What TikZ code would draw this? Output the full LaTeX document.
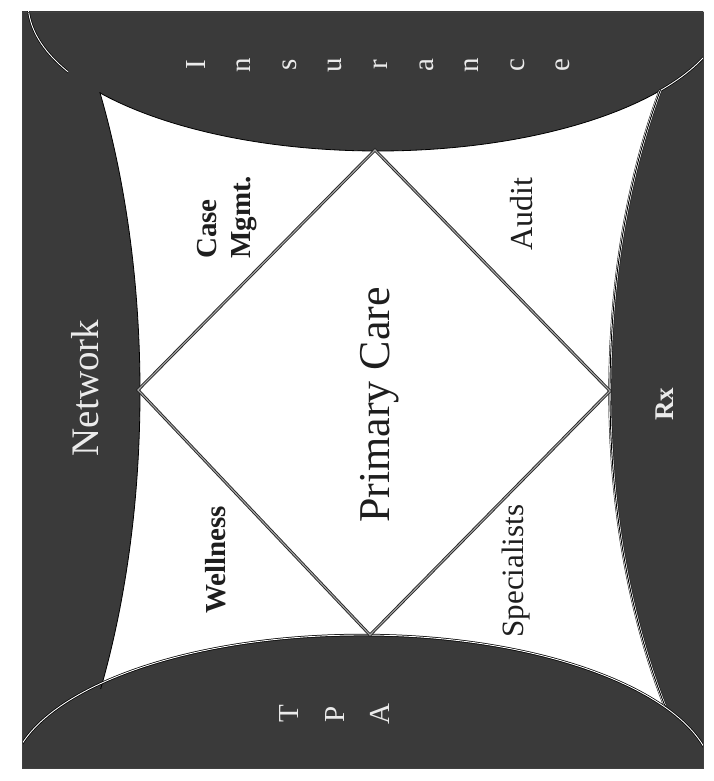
\documentclass[tikz,border=0pt]{standalone}
\usepackage{fontspec}
\setmainfont{Liberation Serif}
\definecolor{band}{RGB}{58,58,58}
\definecolor{ink}{RGB}{30,30,30}
\begin{document}
\begin{tikzpicture}[x=1pt,y=-1pt,
  bandtxt/.style={text=white!92!black, rotate=90, inner sep=0pt, anchor=base},
  lbl/.style={text=ink, rotate=90, inner sep=0pt, anchor=base},
  stackletter/.style={bandtxt, font=\fontsize{29}{29}\selectfont},
  edgeline/.style={black, line width=2.4pt},
  edgewhite/.style={white, line width=0.9pt},
  diamondline/.style={draw=black!85, line width=0.9pt, double=black!35, double distance=1.1pt, line join=miter}]
\useasboundingbox (0,0) rectangle (713,781);
\fill[white] (0,0) rectangle (713,781);
\fill[band] (22,12) rectangle (703,768);
\begin{scope}
  \clip (22,12) rectangle (703,768);
  \fill[white] (22,12) rectangle (703,768);
  \fill[band] (-150,392) ellipse [x radius=290, y radius=590];
  \fill[band] (900,392) ellipse [x radius=290, y radius=536];
  \fill[band] (378,3) ellipse [x radius=350, y radius=148];
  \fill[band] (362,782) ellipse [x radius=352, y radius=147];
  % thin edge of left band and top band, only where they meet the white field
  \begin{scope}
    \clip (0,93) rectangle (200,688);
    \draw[black, line width=0.8pt] (-150,392) ellipse [x radius=290, y radius=590];
  \end{scope}
  \begin{scope}
    \clip (100,0) rectangle (660,200);
    \draw[black, line width=0.8pt] (378,3) ellipse [x radius=350, y radius=148];
  \end{scope}
  % white outline of the top band at its two ends
  \begin{scope}
    \clip (0,0) rectangle (68,78);
    \draw[edgeline] (378,3) ellipse [x radius=350, y radius=148];
    \draw[edgewhite] (378,3) ellipse [x radius=350, y radius=148];
  \end{scope}
  \begin{scope}
    \clip (658,0) rectangle (713,92);
    \draw[edgeline] (378,3) ellipse [x radius=350, y radius=148];
    \draw[edgewhite] (378,3) ellipse [x radius=350, y radius=148];
  \end{scope}
  % double white line on the inner edge of the right band
  \begin{scope}
    \clip (0,91) rectangle (713,704);
    \draw[black, line width=3.2pt] (900,392) ellipse [x radius=290, y radius=536];
    \draw[white, line width=0.7pt, double=black, double distance=0.9pt] (900,392) ellipse [x radius=290, y radius=536];
  \end{scope}
  % white outline of the bottom band
  \draw[edgeline] (362,782) ellipse [x radius=352, y radius=147];
  \draw[edgewhite] (362,782) ellipse [x radius=352, y radius=147];
\end{scope}
\draw[black!75, line width=0.6pt] (22,12) rectangle (703,768);

% diamond
\coordinate (dtop) at (375,150);
\coordinate (dleft) at (138,390);
\coordinate (dbottom) at (370,635);
\coordinate (dright) at (610,391);
\draw[diamondline] (dtop) -- (dleft) -- (dbottom) -- (dright) -- cycle;

% band labels
\node[bandtxt, font=\fontsize{39}{39}\selectfont] (network) at (98,388) {Network};
\node[bandtxt, font=\bfseries\fontsize{27}{27}\selectfont] (rx) at (673,404) {Rx};
\foreach \l [count=\i] in {I,n,s,u,r,a,n,c,e}
  \node[stackletter] (ins\i) at ({205+45.6*(\i-1)},65) {\l};
\node[stackletter] (tpa1) at (298,714) {T};
\node[stackletter] (tpa2) at (344,714) {P};
\node[stackletter] (tpa3) at (389,714) {A};

% inner labels
\node[lbl, font=\fontsize{44}{44}\selectfont] (pc) at (389,405) {Primary Care};
\node[lbl, anchor=base west, font=\bfseries\fontsize{29}{29}\selectfont] (case) at (216,259) {Case};
\node[lbl, anchor=base west, font=\bfseries\fontsize{29}{29}\selectfont] (mgmt) at (250,259) {Mgmt.};
\node[lbl, font=\fontsize{32}{32}\selectfont] (audit) at (532,214) {Audit};
\node[lbl, font=\bfseries\fontsize{29}{29}\selectfont] (wellness) at (225,560) {Wellness};
\node[lbl, font=\fontsize{31}{31}\selectfont] (spec) at (523,571) {Specialists};
\end{tikzpicture}
\end{document}
